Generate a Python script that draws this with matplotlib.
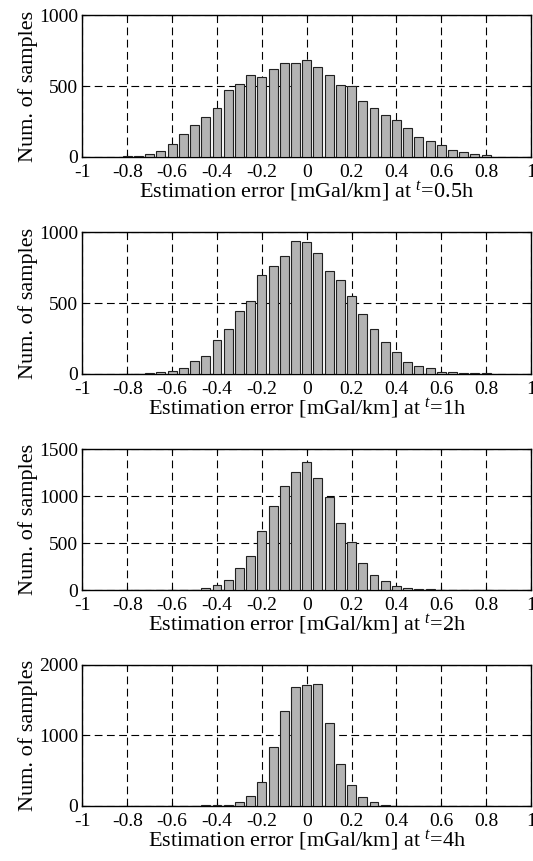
import numpy as np
import matplotlib
matplotlib.use('Agg')
from matplotlib import pyplot as plt

plt.rcParams['font.family'] = ['Liberation Serif', 'DejaVu Serif']
plt.rcParams['mathtext.fontset'] = 'custom'
plt.rcParams['mathtext.rm'] = 'Liberation Serif'
plt.rcParams['mathtext.it'] = 'Liberation Serif:italic'

# bin centres of the histograms [mGal/km]
bin_centers = [-0.8, -0.75, -0.7, -0.65, -0.6, -0.55, -0.5, -0.45, -0.4, -0.35, -0.3,
               -0.25, -0.2, -0.15, -0.1, -0.05, 0.0, 0.05, 0.1, 0.15, 0.2, 0.25,
               0.3, 0.35, 0.4, 0.45, 0.5, 0.55, 0.6, 0.65, 0.7, 0.75, 0.8]

counts_05h = [2, 6, 17, 38, 88, 164, 223, 280, 344, 472, 514,
              581, 566, 618, 664, 664, 685, 633, 581, 505, 498, 391,
              346, 294, 258, 201, 142, 109, 83, 47, 33, 21, 12]
counts_1h = [1, 1, 2, 9, 19, 40, 92, 122, 235, 319, 441,
             516, 697, 761, 833, 937, 930, 857, 725, 660, 549, 420,
             319, 223, 157, 85, 56, 40, 12, 12, 5, 3, 3]
counts_2h = [0, 0, 0, 2, 7, 7, 7, 28, 53, 105, 239,
             368, 632, 891, 1109, 1253, 1358, 1196, 989, 716, 509, 291,
             161, 95, 42, 21, 11, 11, 3, 0, 0, 0, 0]
counts_4h = [0, 0, 0, 0, 0, 0, 0, 9, 9, 9, 52,
             137, 340, 840, 1340, 1689, 1708, 1722, 1179, 590, 297, 127,
             52, 14, 0, 0, 0, 0, 0, 0, 0, 0, 0]

times = ['0.5h', '1h', '2h', '4h']
all_counts = [counts_05h, counts_1h, counts_2h, counts_4h]
y_max = [1000, 1000, 1500, 2000]
y_ticks = [[0, 500, 1000], [0, 500, 1000], [0, 500, 1000, 1500], [0, 1000, 2000]]
x_ticks = [-1, -0.8, -0.6, -0.4, -0.2, 0, 0.2, 0.4, 0.6, 0.8, 1]
x_ticklabels = ['-1', '-0.8', '-0.6', '-0.4', '-0.2', '0', '0.2', '0.4', '0.6', '0.8', '1']

fig = plt.figure(figsize=(5.33, 8.61), dpi=100)

bottoms = [0.818, 0.566, 0.3144, 0.0639]
for i in range(4):
    ax = fig.add_axes([0.1546, bottoms[i], 0.8417, 0.164])
    ax.bar(bin_centers, all_counts[i], width=0.05 * 0.8, color='#b3b3b3',
           edgecolor='#202020', linewidth=0.8, zorder=3)
    ax.set_xlim(-1, 1)
    ax.set_ylim(0, y_max[i])
    ax.set_xticks(x_ticks)
    ax.set_xticklabels(x_ticklabels)
    ax.set_yticks(y_ticks[i])
    ax.set_axisbelow(True)
    ax.grid(True, color='black', linestyle=(0, (7, 4)), linewidth=0.8)
    ax.tick_params(direction='in', top=True, right=True, length=3, width=0.8,
                   labelsize=14)
    ax.tick_params(axis='x', pad=5)
    ax.tick_params(axis='y', pad=3)
    for s in ax.spines.values():
        s.set_linewidth(1.0)
    ax.set_ylabel('Num. of samples', fontsize=16, labelpad=1)
    ax.set_xlabel('Estimation error [mGal/km] at $^{t}$=' + times[i], fontsize=16, labelpad=-1)

plt.savefig('out.png', dpi=100)
